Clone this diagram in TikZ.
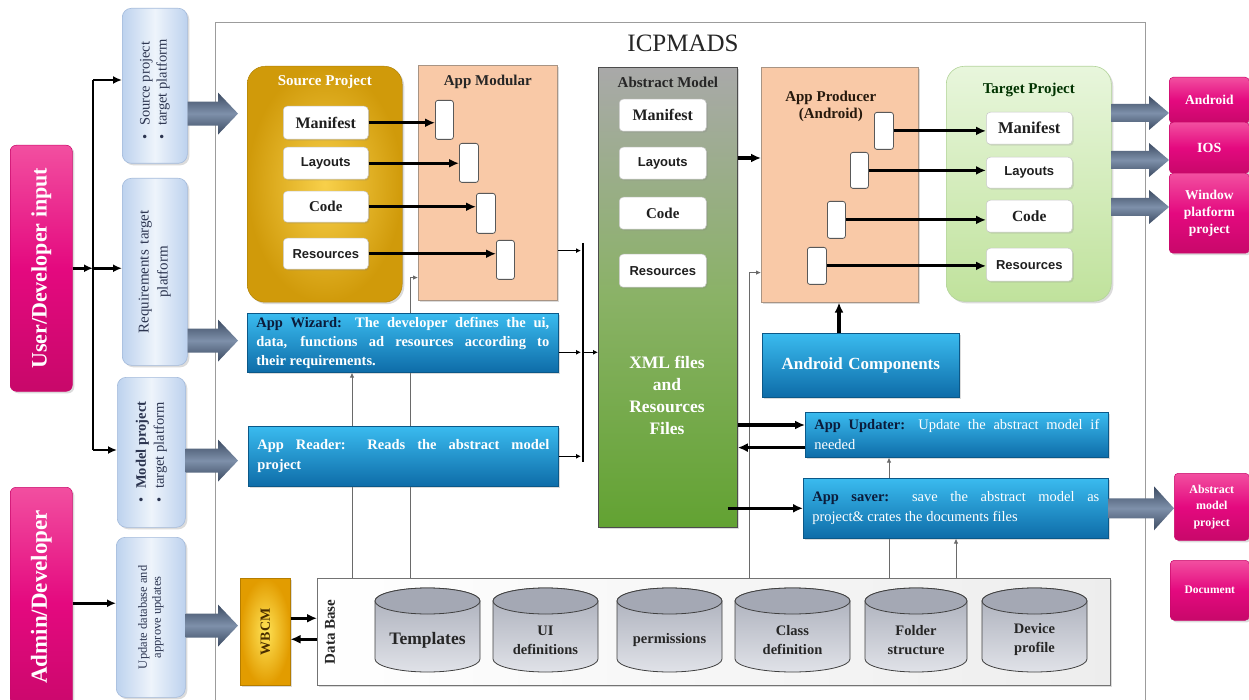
\documentclass[tikz,border=0pt]{standalone}
\usepackage{fontspec}
\setmainfont{Liberation Serif}
\newfontfamily\sansfam{Liberation Sans}
\usetikzlibrary{arrows.meta,calc,shadows,backgrounds}

\definecolor{pkL}{HTML}{F24FA0}
\definecolor{pkM}{HTML}{E4097F}
\definecolor{pkD}{HTML}{C8086A}
\definecolor{lbA}{HTML}{BDD2EE}
\definecolor{lbB}{HTML}{EEF4FB}
\definecolor{lbE}{HTML}{A3BADB}
\definecolor{lbT}{HTML}{2C3550}
\definecolor{goldIn}{HTML}{F8D04A}
\definecolor{goldOut}{HTML}{D09A0A}
\definecolor{salmon}{HTML}{F9C9A7}
\definecolor{salmonE}{HTML}{A89484}
\definecolor{absTop}{HTML}{A9A9A9}
\definecolor{absMid}{HTML}{8AB266}
\definecolor{absBot}{HTML}{62A232}
\definecolor{tgtTop}{HTML}{E8F6DC}
\definecolor{tgtBot}{HTML}{C0E29C}
\definecolor{tgtE}{HTML}{B3D49A}
\definecolor{blT}{HTML}{3ABBEF}
\definecolor{blB}{HTML}{0E6CA8}
\definecolor{blE}{HTML}{0B5888}
\definecolor{navy}{HTML}{0B1B3A}
\definecolor{wbIn}{HTML}{FFE357}
\definecolor{wbOut}{HTML}{E29C00}
\definecolor{wbT}{HTML}{4A2E00}
\definecolor{cylA}{HTML}{A8ACB8}
\definecolor{cylB}{HTML}{E0E2E8}
\definecolor{cylT}{HTML}{A4A8B4}
\definecolor{arD}{HTML}{3C4B62}
\definecolor{arL}{HTML}{7E90AA}
\definecolor{frameC}{HTML}{9C9C9C}
\definecolor{thinC}{HTML}{6A6A6A}

\newcommand\fsz[2]{\fontsize{#1}{#2}\selectfont}

% block arrow: start point, tip point (only its x is used), shaft half height, head half height
\newcommand\fatarrow[4]{%
  \path[fatarrow] let \p1=(#1), \p2=(#2) in
    (\x1,\y1+#3pt) -- (\x2-20pt,\y1+#3pt) -- (\x2-20pt,\y1+#4pt) -- (\x2,\y1)
    -- (\x2-20pt,\y1-#4pt) -- (\x2-20pt,\y1-#3pt) -- (\x1,\y1-#3pt) -- cycle;}

% database cylinder: name, centre x, half width, label
\newcommand\dbcyl[4]{%
  \path[cylbody] ({#2-#3},601) -- ({#2-#3},659)
    arc[start angle=180,end angle=360,x radius=#3pt,y radius=13pt]
    -- ({#2+#3},601)
    arc[start angle=0,end angle=180,x radius=#3pt,y radius=13pt] -- cycle;
  \path[cyltop] (#2,601) ellipse[x radius=#3pt,y radius=13pt];
  \node[cyltext] (#1) at (#2,640) {#4};}

\begin{document}
\begin{tikzpicture}[x=1pt,y=-1pt,
  wh/.style 2 args={minimum width=#1pt,minimum height=#2pt},
  nw/.style={anchor=north west,inner sep=0pt},
  softshadow/.style={drop shadow={opacity=0.28,shadow xshift=2pt,shadow yshift=-2pt}},
  pinkbox/.style={nw,rounded corners=6pt,top color=pkL,bottom color=pkD,middle color=pkM,draw=pkD,line width=0.5pt,softshadow},
  pinktext/.style={text=white,font=\bfseries\fsz{13.5}{17},align=center,inner sep=0pt},
  lbox/.style={nw,rounded corners=9pt,left color=lbA,right color=lbA,middle color=lbB,draw=lbE,line width=0.6pt,softshadow},
  lbtext/.style={rotate=90,text=lbT,inner sep=0pt},
  wbox/.style={nw,fill=white,draw=black!22,line width=0.5pt,rounded corners=4pt,drop shadow={opacity=0.2,shadow xshift=1.5pt,shadow yshift=-1.5pt}},
  serifitem/.style={font=\bfseries\fsz{16}{18},text=black!88},
  sansitem/.style={font=\sansfam\bfseries\fsz{13}{16},text=black!88},
  slot/.style={nw,fill=white,draw=black!65,line width=0.8pt,rounded corners=2.5pt},
  salmonbox/.style={nw,fill=salmon,draw=salmonE,line width=0.6pt,softshadow},
  ttl/.style={font=\bfseries\fsz{15}{17},inner sep=0pt},
  bluebox/.style={anchor=north west,top color=blT,bottom color=blB,draw=blE,line width=0.6pt,softshadow,text=white},
  fatarrow/.style={top color=arD,bottom color=arD,middle color=arL,draw=none},
  tharrow/.style={line width=3.2pt,-{Latex[length=10pt,width=9pt]}},
  busarrow/.style={line width=2.6pt,-{Latex[length=9pt,width=8pt]}},
  medarrow/.style={line width=1pt,-{Latex[length=5pt,width=5pt]}},
  thinarrow/.style={draw=thinC,line width=0.8pt,-{Latex[length=5pt,width=4.5pt]}},
  cylbody/.style={draw=black!75,line width=0.8pt,top color=cylA,bottom color=cylB},
  cyltop/.style={draw=black!75,line width=0.8pt,fill=cylT},
  cyltext/.style={font=\bfseries\fsz{14.5}{19},text=black!85,align=center,inner sep=0pt}]

\begin{scope}[on background layer]
  \fill[white] (0,0) rectangle (1249,700);
\end{scope}
\useasboundingbox (0,0) rectangle (1249,700);
\clip (0,0) rectangle (1249,700);

% ---------- system frame ----------
\node[nw,wh={930}{720},draw=frameC,line width=0.8pt] (sys) at (215,22) {};
\node[font=\fsz{25}{30},text=black!85,inner sep=0pt] (sysT) at (683,43) {ICPMADS};

% ---------- actors ----------
\node[pinkbox,wh={62}{246}] (userin) at (10,145) {};
\node[rotate=90,font=\bfseries\fsz{22}{26},text=white,inner sep=0pt] (userinT) at (userin) {User/Developer input};
\node[pinkbox,wh={62}{232}] (admin) at (10,487) {};
\node[rotate=90,font=\bfseries\fsz{23}{26},text=white,inner sep=0pt] (adminT) at ($(admin.north)+(0,110)$) {Admin/Developer};

% ---------- inputs ----------
\node[lbox,wh={65}{155}] (in1) at (122,8) {};
\node[lbtext,align=left,font=\fsz{14.5}{17}] (in1T) at ($(in1)+(0,4)$) {\textbullet\hspace{9pt}Source project\\\textbullet\hspace{9pt}target platform};
\node[lbox,wh={65}{187}] (in2) at (122,178) {};
\node[lbtext,align=center,font=\fsz{15}{19}] (in2T) at (in2) {Requirements\hspace{6pt}target\\platform};
\node[lbox,wh={68}{150}] (in3) at (117,377) {};
\node[lbtext,align=left,font=\fsz{14.5}{18}] (in3T) at (in3) {\textbullet\hspace{9pt}\textbf{Model project}\\\textbullet\hspace{9pt}target platform};
\node[lbox,wh={69}{160}] (in4) at (116,537) {};
\node[lbtext,align=center,font=\fsz{12.5}{14}] (in4T) at (in4) {Update database and\\approve updates};

% ---------- source project ----------
\node[nw,wh={155}{236},rounded corners=18pt,inner color=goldIn,outer color=goldOut,draw=goldOut!85!black,line width=0.5pt,softshadow] (src) at (247,66) {};
\node[ttl,text=white] (srcT) at ($(src.north)+(0,16)$) {Source Project};
\node[wbox,wh={85}{33}] (srcMan) at (283,106) {};
\node[serifitem] at (srcMan) {Manifest};
\node[wbox,wh={85}{32}] (srcLay) at (283,147) {};
\node[sansitem] at (srcLay) {Layouts};
\node[wbox,wh={85}{31}] (srcCode) at (283,191) {};
\node[serifitem,font=\bfseries\fsz{15}{18}] at (srcCode) {Code};
\node[wbox,wh={85}{31}] (srcRes) at (283,238) {};
\node[sansitem] at (srcRes) {Resources};

% ---------- app modular ----------
\node[salmonbox,wh={139}{235}] (mod) at (418,65) {};
\node[ttl,text=black!85] (modT) at ($(mod.north)+(0,17)$) {App Modular};
\node[slot,wh={18}{39}] (m1) at (435,100) {};
\node[slot,wh={19}{39}] (m2) at (459,143) {};
\node[slot,wh={19}{40}] (m3) at (476,193) {};
\node[slot,wh={18}{39}] (m4) at (496,240) {};

% ---------- abstract model ----------
\node[nw,wh={139}{460},top color=absTop,bottom color=absBot,middle color=absMid,draw=black!70,line width=0.8pt,softshadow] (abs) at (598,67) {};
\node[ttl,text=black!85] (absT) at ($(abs.north)+(0,15)$) {Abstract Model};
\node[wbox,wh={87}{32}] (aMan) at (619,99) {};
\node[serifitem] at (aMan) {Manifest};
\node[wbox,wh={87}{32}] (aLay) at (619,147) {};
\node[sansitem] at (aLay) {Layouts};
\node[wbox,wh={87}{32}] (aCode) at (619,197) {};
\node[serifitem,font=\bfseries\fsz{15}{18}] at (aCode) {Code};
\node[wbox,wh={87}{33}] (aRes) at (619,254) {};
\node[sansitem] at (aRes) {Resources};
\node[font=\bfseries\fsz{17.5}{22},text=white,align=center,inner sep=0pt] (xml) at (667,395) {XML files\\and\\Resources\\Files};

% ---------- app producer ----------
\node[salmonbox,wh={157}{235}] (prod) at (761,67) {};
\node[ttl,text=black!80!brown,align=center,font=\bfseries\fsz{15}{17}] (prodT) at ($(prod.north)+(-9,39)$) {App Producer\\(Android)};
\node[slot,wh={19}{37}] (p1) at (874,112) {};
\node[slot,wh={18}{36}] (p2) at (850,152) {};
\node[slot,wh={18}{37}] (p3) at (827,201) {};
\node[slot,wh={19}{37}] (p4) at (807,247) {};

% ---------- target project ----------
\node[nw,wh={165}{235},rounded corners=18pt,top color=tgtTop,bottom color=tgtBot,draw=tgtE,line width=0.6pt,softshadow] (tgt) at (946,66) {};
\node[ttl,text=black!80!green] (tgtT) at ($(tgt.north)+(0,24)$) {Target Project};
\node[wbox,wh={86}{32}] (tMan) at (986,112) {};
\node[serifitem,font=\bfseries\fsz{16.5}{18}] at (tMan) {Manifest};
\node[wbox,wh={86}{31}] (tLay) at (986,157) {};
\node[sansitem] at (tLay) {Layouts};
\node[wbox,wh={86}{32}] (tCode) at (986,200) {};
\node[serifitem,font=\bfseries\fsz{15.5}{18}] at (tCode) {Code};
\node[wbox,wh={86}{33}] (tRes) at (986,248) {};
\node[sansitem] at (tRes) {Resources};

% ---------- outputs ----------
\node[pinkbox,wh={80}{46},rounded corners=4pt] (oAnd) at (1169,77) {};
\node[pinktext] at (oAnd) {Android};
\node[pinkbox,wh={80}{51},rounded corners=4pt] (oIOS) at (1169,122) {};
\node[pinktext,font=\bfseries\fsz{14}{17}] at (oIOS) {IOS};
\node[pinkbox,wh={80}{80},rounded corners=4pt] (oWin) at (1169,173) {};
\node[pinktext] at (oWin) {Window\\platform\\project};
\node[pinkbox,wh={75}{67},rounded corners=4pt] (oAbs) at (1174,473) {};
\node[pinktext,font=\bfseries\fsz{12}{16.5}] at (oAbs) {Abstract\\model\\project};
\node[pinkbox,wh={79}{60},rounded corners=4pt] (oDoc) at (1170,560) {};
\node[pinktext,font=\bfseries\fsz{11.5}{14}] at (oDoc) {Document};

% ---------- processing units ----------
\node[bluebox,text width=293pt,inner xsep=9pt,inner ysep=0pt,minimum height=59pt,align=justify,font=\bfseries\fsz{14.5}{19}] (wizard) at (247,313)
  {{\color{navy}App Wizard:} The developer defines the ui,\linebreak data, functions ad resources according to\linebreak their requirements.};
\node[bluebox,text width=292pt,inner xsep=9pt,inner ysep=0pt,minimum height=60pt,align=justify,font=\bfseries\fsz{14.5}{20}] (reader) at (248,426)
  {App Reader: Reads the abstract model\linebreak project};
\node[bluebox,text width=197pt,inner sep=0pt,minimum height=64pt,align=center,font=\bfseries\fsz{17}{20}] (andc) at (762,333) {Android Components};
\node[bluebox,text width=285pt,inner xsep=9pt,inner ysep=0pt,minimum height=45pt,align=justify,font=\fsz{14.5}{20}] (upd) at (805,412)
  {{\bfseries\color{navy}App Updater:} Update the abstract model if\linebreak needed};
\node[bluebox,text width=287pt,inner xsep=9pt,inner ysep=0pt,minimum height=60pt,align=justify,font=\fsz{14.5}{20}] (sav) at (803,478)
  {{\bfseries\color{navy}App saver:} save the abstract model as\linebreak project\& crates the documents files};

% ---------- data base ----------
\node[nw,wh={50}{107},inner color=wbIn,outer color=wbOut,draw=wbOut!80!black,line width=0.5pt,softshadow] (wbcm) at (240,578) {};
\node[rotate=90,font=\bfseries\fsz{14}{16},text=wbT,inner sep=0pt] (wbcmT) at (wbcm) {WBCM};
\node[nw,wh={793}{107},left color=white,right color=black!7,draw=black!55,line width=0.8pt,softshadow] (db) at (317,578) {};
\node[rotate=90,font=\bfseries\fsz{15}{18},text=black!85,inner sep=0pt] (dbT) at ($(db.west)+(13,0)$) {Data Base};
\dbcyl{cTpl}{427.5}{52.5}{\fsz{17.5}{20}Templates}
\dbcyl{cUI}{545.5}{52.5}{UI\\definitions}
\dbcyl{cPerm}{669.5}{52.5}{permissions}
\dbcyl{cClass}{792.5}{57.5}{Class\\definition}
\dbcyl{cFold}{916}{51}{Folder\\structure}
\dbcyl{cDev}{1034.5}{52.5}{Device\\profile}

% ---------- data base feeds (behind the boxes they pass) ----------
\begin{scope}[on background layer]
  \coordinate (l1) at ($(db.north west)+(35,0)$);
  \coordinate (l2) at ($(db.north west)+(93,0)$);
  \coordinate (l3) at ($(db.north west)+(432,0)$);
  \coordinate (l4) at ($(db.north west)+(572,0)$);
  \coordinate (l5) at ($(db.north west)+(639,0)$);
  \draw[thinarrow] (l1) -- (l1 |- wizard.south);
  \draw[thinarrow] (l2) |- ($(mod.south west)+(0,-23)$);
  \draw[thinarrow] (l3) |- ($(prod.south west)+(0,-30)$);
  \draw[thinarrow] (l4) -- (l4 |- upd.south);
  \draw[thinarrow] (l5) -- (l5 |- sav.south);
\end{scope}

% ---------- actor connectors ----------
\coordinate (busTop) at (93,80);
\coordinate (busBot) at (93,450);
\draw[line width=2.6pt] (busTop) -- (busBot);
\draw[busarrow] (userin.east) -- (userin.east -| busTop);
\draw[busarrow] (userin.east -| busTop) -- (userin.east -| in2.west);
\draw[busarrow] (busTop) -- (busTop -| in1.west);
\draw[busarrow] (busBot) -- (busBot -| in3.west);
\draw[busarrow] (admin.east) -- (admin.east -| in4.west);

% ---------- block arrows ----------
\coordinate (fa1s) at ($(in1.south east)+(0,-50)$);
\coordinate (fa1e) at ($(src.west)+(-9,0)$);
\fatarrow{fa1s}{fa1e}{12}{21}
\coordinate (fa2s) at ($(in2.south east)+(0,-25)$);
\coordinate (fa2e) at ($(wizard.west)+(-9,0)$);
\fatarrow{fa2s}{fa2e}{12}{21}
\coordinate (fa3s) at ($(in3.south east)+(0,-67)$);
\coordinate (fa3e) at ($(reader.west)+(-10,0)$);
\fatarrow{fa3s}{fa3e}{12}{21}
\coordinate (fa4s) at ($(in4.south east)+(0,-72)$);
\coordinate (fa4e) at ($(wbcm.west)+(-2,0)$);
\fatarrow{fa4s}{fa4e}{12}{21}
\coordinate (fo1) at ($(tgt.north east)+(0,47)$);
\coordinate (fo2) at ($(tgt.north east)+(0,94)$);
\coordinate (fo3) at ($(tgt.north east)+(0,141)$);
\fatarrow{fo1}{oAnd.west}{9}{17}
\fatarrow{fo2}{oIOS.west}{9}{17}
\fatarrow{fo3}{oWin.west}{9}{17}
\fatarrow{sav.east}{oAbs.west}{10}{22}

% ---------- modular / producer connectors ----------
\draw[tharrow] (srcMan.east) -- (srcMan.east -| m1.west);
\draw[tharrow] (srcLay.east) -- (srcLay.east -| m2.west);
\draw[tharrow] (srcCode.east) -- (srcCode.east -| m3.west);
\draw[tharrow] (srcRes.east) -- (srcRes.east -| m4.west);
\draw[tharrow] (p1.east) -- (p1.east -| tMan.west);
\draw[tharrow] (p2.east) -- (p2.east -| tLay.west);
\draw[tharrow] (p3.east) -- (p3.east -| tCode.west);
\draw[tharrow] (p4.east) -- (p4.east -| tRes.west);

% ---------- merge bar into the abstract model ----------
\coordinate (barT) at (583,243);
\coordinate (barB) at (583,462);
\draw[line width=2.8pt] (barT) -- (barB);
\coordinate (mb) at ($(mod.south east)+(0,-50)$);
\draw[medarrow] (mb) -- ($(mb -| barT)+(-2,0)$);
\coordinate (wb) at ($(wizard.east)+(0,9.5)$);
\draw[medarrow] (wb) -- ($(wb -| barT)+(-2,0)$);
\draw[medarrow] ($(wb -| barT)+(1,0)$) -- (wb -| abs.west);
\draw[medarrow] (reader.east) -- ($(reader.east -| barT)+(-2,0)$);

% ---------- abstract model connectors ----------
\coordinate (ap) at ($(abs.north east)+(0,91)$);
\draw[tharrow] (ap) -- (ap -| prod.west);
\coordinate (ac) at ($(andc.north west)+(77,0)$);
\draw[tharrow] (ac) -- (ac |- prod.south);
\coordinate (u1) at ($(upd.north west)+(0,13)$);
\draw[tharrow] (u1 -| abs.east) -- (u1);
\coordinate (u2) at ($(upd.south west)+(0,-10)$);
\draw[tharrow] (u2) -- (u2 -| abs.east);
\draw[tharrow] ($(sav.west -| abs.east)+(-10,0)$) -- (sav.west);

% ---------- WBCM <-> data base ----------
\coordinate (w1) at ($(wbcm.east)+(0,-13.5)$);
\coordinate (w2) at ($(wbcm.east)+(0,7.5)$);
\draw[tharrow] (w1) -- (w1 -| db.west);
\draw[tharrow] (w2 -| db.west) -- (w2);
\end{tikzpicture}
\end{document}
